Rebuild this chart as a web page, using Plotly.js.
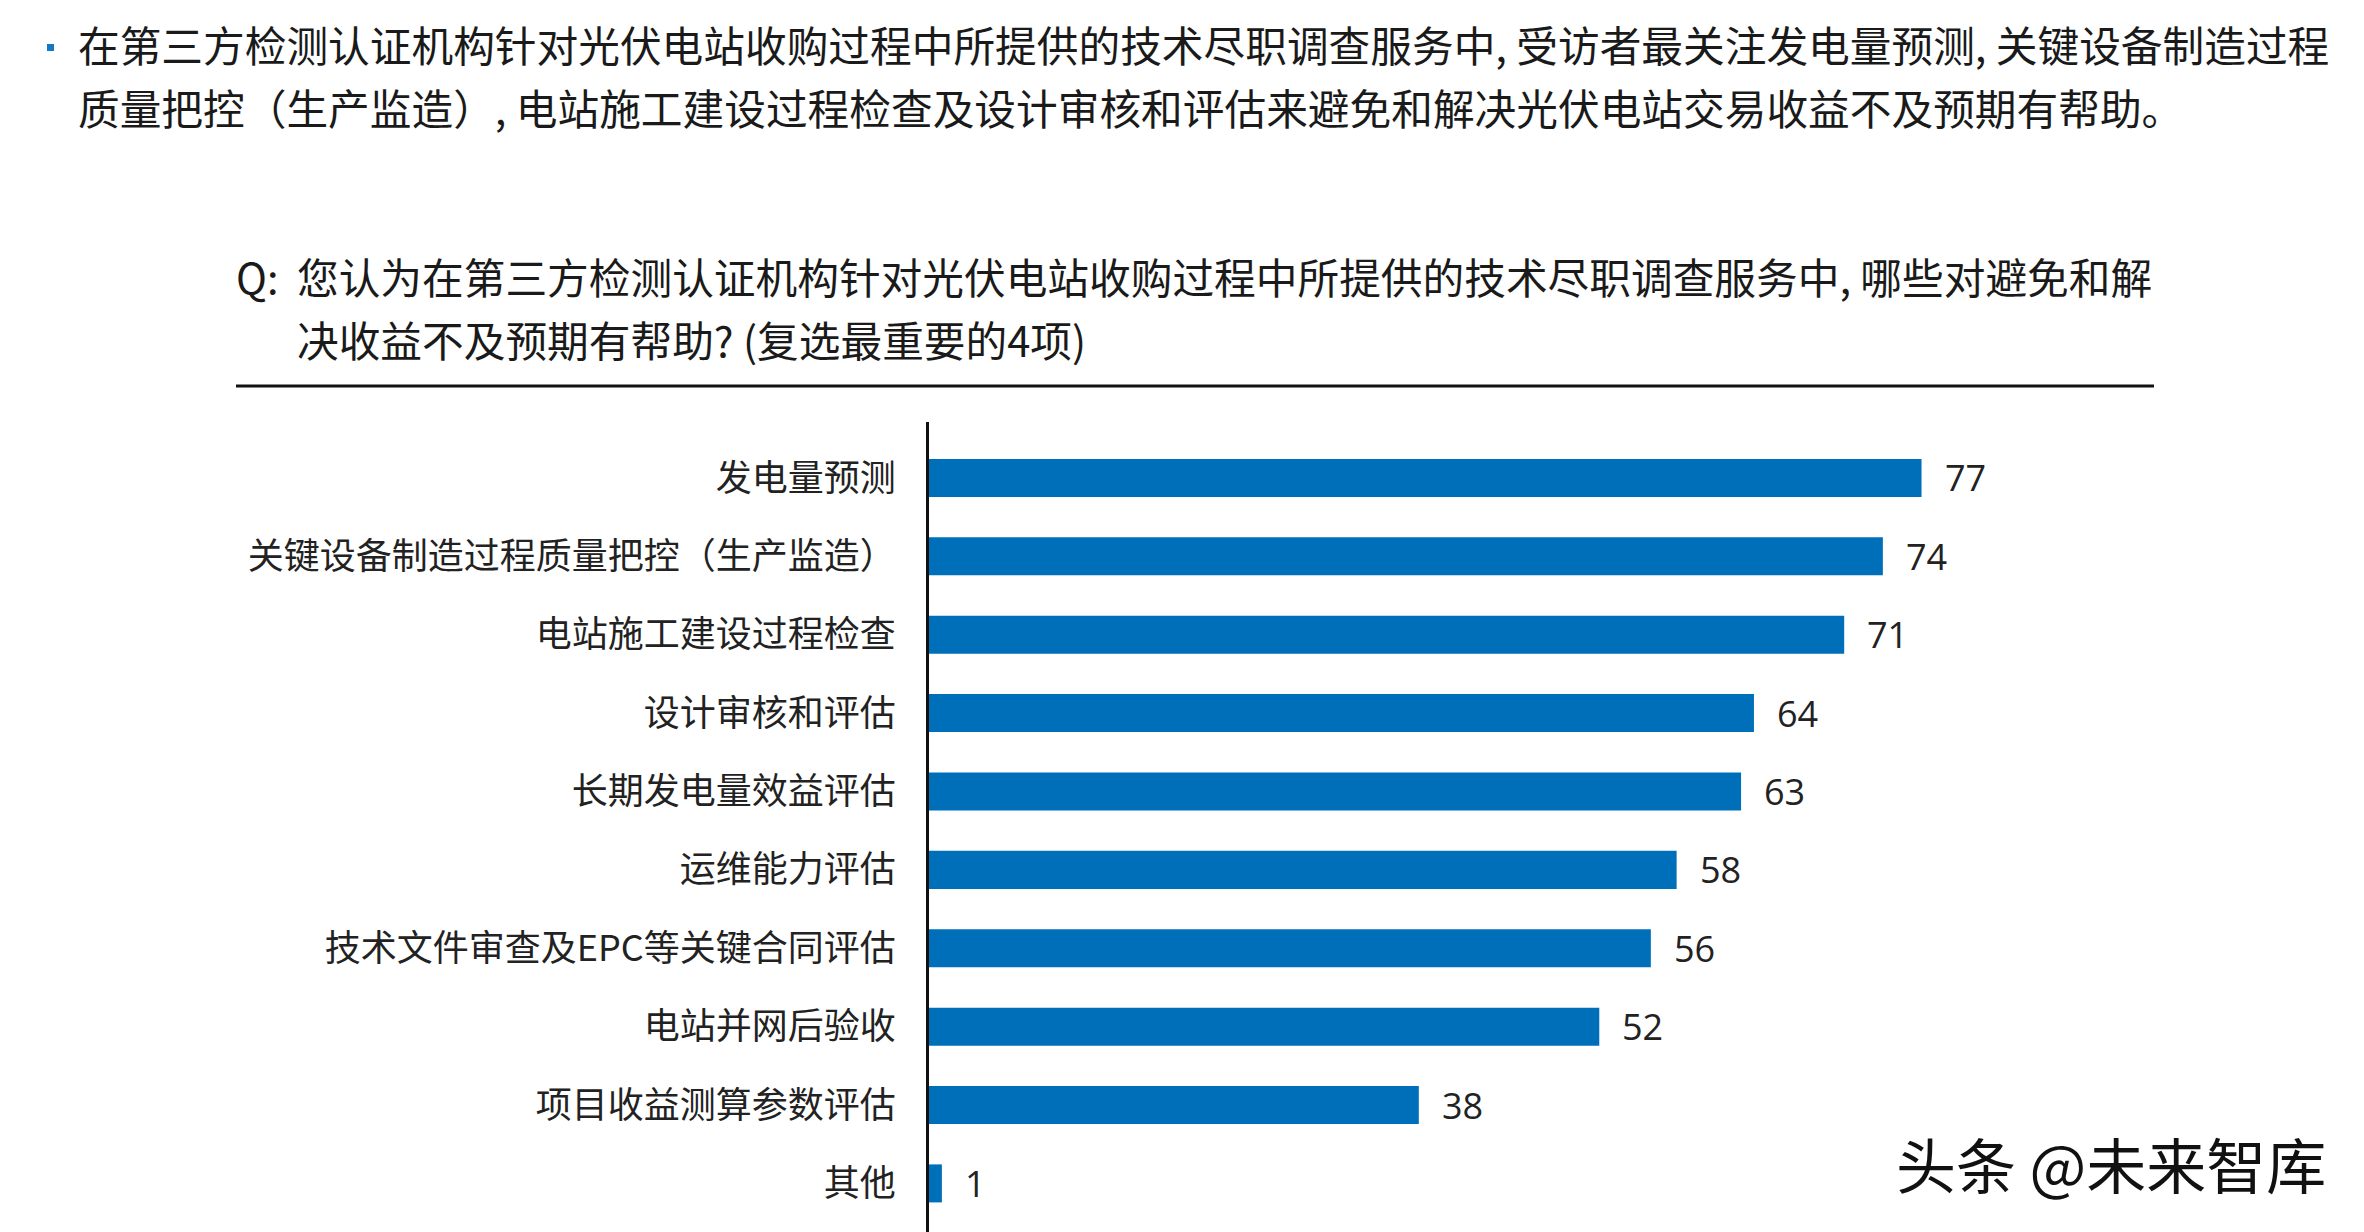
<!DOCTYPE html>
<html>
<head>
<meta charset="utf-8">
<script src="https://cdn.plot.ly/plotly-3.0.1.min.js"></script>
<style>html,body{margin:0;padding:0;background:#fff;}#chart{width:2364px;height:1232px;}</style>
</head>
<body>
<div id="chart"></div>
<script>
const categories = [
  "发电量预测",
  "关键设备制造过程质量把控（生产监造）",
  "电站施工建设过程检查",
  "设计审核和评估",
  "长期发电量效益评估",
  "运维能力评估",
  "技术文件审查及EPC等关键合同评估",
  "电站并网后验收",
  "项目收益测算参数评估",
  "其他"
];
const values = [77, 74, 71, 64, 63, 58, 56, 52, 38, 1];

const introLines = [
  "在第三方检测认证机构针对光伏电站收购过程中所提供的技术尽职调查服务中, 受访者最关注发电量预测, 关键设备制造过程",
  "质量把控（生产监造）, 电站施工建设过程检查及设计审核和评估来避免和解决光伏电站交易收益不及预期有帮助。"
];
const questionPrefix = "Q:";
const questionLines = [
  "您认为在第三方检测认证机构针对光伏电站收购过程中所提供的技术尽职调查服务中, 哪些对避免和解",
  "决收益不及预期有帮助? (复选最重要的4项)"
];
const watermark = "头条 @未来智库";

const W = 2364, H = 1232;
const M = {l: 929, r: 146, t: 422, b: 0};
const PW = W - M.l - M.r, PH = H - M.t - M.b;
const px = x => (x - M.l) / PW;
const py = y => (H - M.b - y) / PH;

const CJK = '"Noto Sans CJK SC", "Noto Sans", sans-serif';
const BLUE = '#006FB9';

const annotations = [];
// value labels
values.forEach((v, i) => {
  annotations.push({
    x: v, y: categories[i], xref: 'x', yref: 'y',
    text: String(v), showarrow: false, xanchor: 'left', yanchor: 'middle',
    xshift: 21, font: {family: '"Open Sans", sans-serif', size: 36, color: '#222'}
  });
});
// intro paragraph
const introY = [44, 107];
introLines.forEach((t, i) => {
  annotations.push({
    x: px(76), y: py(introY[i]), xref: 'paper', yref: 'paper', text: t,
    showarrow: false, xanchor: 'left', yanchor: 'middle',
    font: {family: CJK, size: 41.7, color: '#1a1a1a'}
  });
});
// question
const qY = [276, 339];
annotations.push({
  x: px(234), y: py(qY[0]), xref: 'paper', yref: 'paper', text: questionPrefix,
  showarrow: false, xanchor: 'left', yanchor: 'middle',
  font: {family: CJK, size: 41.7, color: '#1a1a1a'}
});
questionLines.forEach((t, i) => {
  annotations.push({
    x: px(295), y: py(qY[i]), xref: 'paper', yref: 'paper', text: t,
    showarrow: false, xanchor: 'left', yanchor: 'middle',
    font: {family: CJK, size: 41.7, color: '#1a1a1a'}
  });
});
// watermark
annotations.push({
  x: px(2328), y: py(1162), xref: 'paper', yref: 'paper', text: watermark,
  showarrow: false, xanchor: 'right', yanchor: 'middle',
  font: {family: CJK, size: 60, color: '#111'}
});

const shapes = [
  {type: 'rect', xref: 'paper', yref: 'paper', x0: px(47), x1: px(54), y0: py(51), y1: py(44),
   fillcolor: '#1479C4', line: {width: 0}},
  {type: 'line', xref: 'paper', yref: 'paper', x0: px(236), x1: px(2154), y0: py(386), y1: py(386),
   line: {color: '#111', width: 3}}
];

const trace = {
  type: 'bar', orientation: 'h',
  x: values, y: categories,
  marker: {color: BLUE, line: {width: 0}},
  hoverinfo: 'none'
};

const layout = {
  width: W, height: H,
  margin: {l: M.l, r: M.r, t: M.t, b: M.b, pad: 0},
  paper_bgcolor: '#fff', plot_bgcolor: '#fff',
  showlegend: false,
  bargap: 0.515,
  xaxis: {range: [0, 100], showgrid: false, zeroline: false, showticklabels: false, showline: false, ticks: ''},
  yaxis: {
    type: 'category', range: [9.62, -0.714],
    showgrid: false, zeroline: false,
    showline: true, linecolor: '#111', linewidth: 3,
    ticks: 'outside', ticklen: 23, tickcolor: 'rgba(0,0,0,0)',
    tickfont: {family: CJK, size: 36, color: '#222'}
  },
  annotations: annotations,
  shapes: shapes
};

Plotly.newPlot('chart', [trace], layout, {displayModeBar: false, staticPlot: true});
</script>
</body>
</html>
